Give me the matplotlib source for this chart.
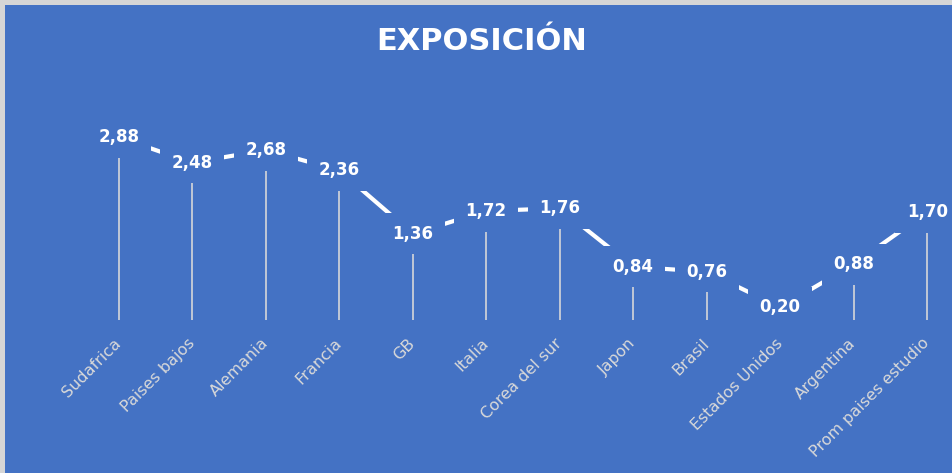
import matplotlib
matplotlib.use("Agg")
import matplotlib.pyplot as plt
from matplotlib.patches import Rectangle

# Exposición por país
paises = ["Sudafrica", "Paises bajos", "Alemania", "Francia", "GB", "Italia",
          "Corea del sur", "Japon", "Brasil", "Estados Unidos", "Argentina",
          "Prom paises estudio"]
exposicion = [2.88, 2.48, 2.68, 2.36, 1.36, 1.72, 1.76, 0.84, 0.76, 0.20, 0.88, 1.70]

azul = "#4472C4"
blanco = "white"
gris_claro = "#D9D9D9"

plt.rcParams["font.family"] = ["DejaVu Sans"]

fig = plt.figure(figsize=(9.53, 4.73), dpi=100)
fig.patch.set_facecolor(azul)
# borde gris arriba y a la izquierda
fig.patches.append(Rectangle((0, 0), 5 / 953, 1, transform=fig.transFigure,
                             facecolor="#D6D6D6", edgecolor="none"))
fig.patches.append(Rectangle((0, 1 - 5 / 473), 1, 5 / 473, transform=fig.transFigure,
                             facecolor="#D6D6D6", edgecolor="none"))

ax = fig.add_axes([82 / 953, 153 / 473, 882 / 953, 222 / 473])
ax.set_facecolor("none")
x = list(range(len(paises)))

# líneas de caída hasta el eje
ax.vlines(x, 0, exposicion, colors=gris_claro, linewidth=1.3, alpha=0.9, zorder=1)
ax.plot(x, exposicion, color=blanco, linewidth=3.0, solid_capstyle="butt", zorder=2)

for xi, v in zip(x, exposicion):
    ax.text(xi, v, f"{v:.2f}".replace(".", ","), ha="center", va="center",
            color=blanco, fontsize=12, fontweight="bold", zorder=3,
            bbox=dict(boxstyle="square,pad=0.7", facecolor=azul, edgecolor="none"))

ax.set_xlim(-0.5, len(paises) - 0.5)
ax.set_ylim(0, 3.5)
ax.set_yticks([])
ax.set_xticks(x)
ax.set_xticklabels(paises, rotation=45, ha="right", va="center",
                   rotation_mode="anchor", color=gris_claro, fontsize=11.5)
ax.tick_params(axis="x", length=0, pad=15)
for s in ax.spines.values():
    s.set_visible(False)

fig.text(482 / 953, 1 - 41 / 473, "EXPOSICIÓN", ha="center", va="center",
         color=blanco, fontsize=22, fontweight="bold")

fig.savefig("out.png", dpi=100, facecolor=fig.get_facecolor())
